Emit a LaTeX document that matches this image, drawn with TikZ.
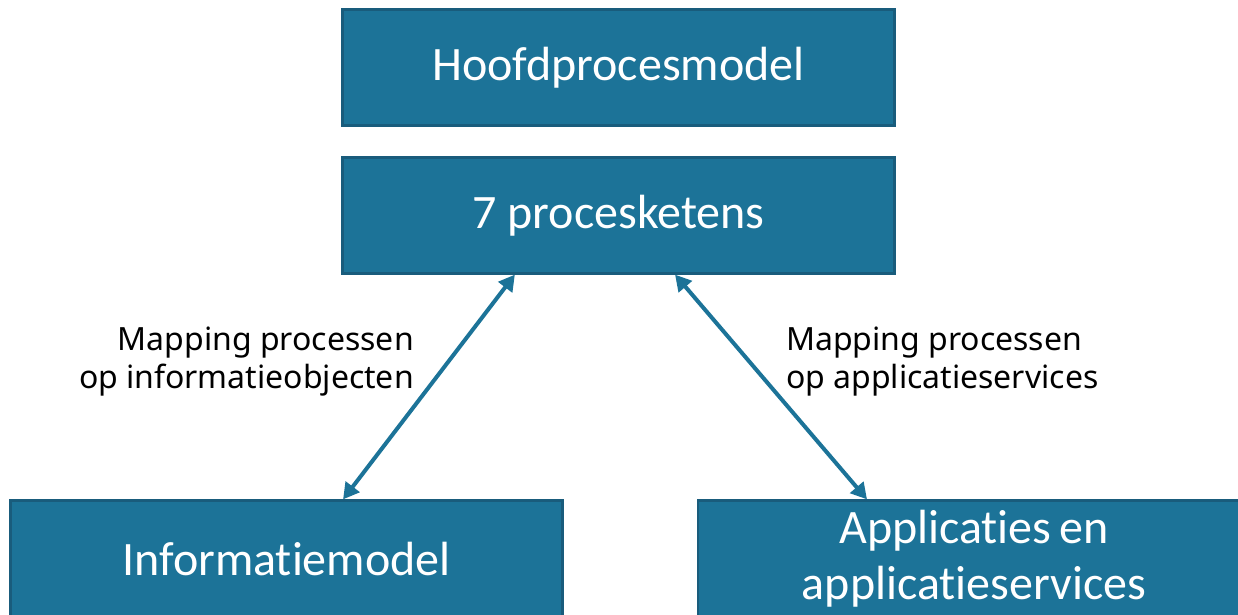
\documentclass[tikz,border=0pt]{standalone}
\usepackage{fontspec}
\setmainfont{Carlito}[RawFeature={-liga;-dlig;-calt;-clig}]
\newfontfamily\mapfont{Noto Sans}
\usetikzlibrary{arrows.meta,calc}
\definecolor{boxblue}{HTML}{1C7398}
\definecolor{boxedge}{HTML}{195C7C}
\definecolor{arrowblue}{HTML}{1C7398}
\tikzset{
  bluebox/.style={draw=boxedge, line width=2.2pt, fill=boxblue, text=white,
    minimum width=552pt, minimum height=116pt, inner sep=0pt,
    font=\fontsize{48}{56}\selectfont, align=center},
  maplabel/.style={font={\mapfont\fontsize{32}{38}\selectfont}, text=black, inner sep=0pt},
  maparrow/.style={arrowblue, line width=4pt,
    {Triangle[length=16pt,width=17pt]}-{Triangle[length=16pt,width=17pt]}}
}
\begin{document}
\begin{tikzpicture}[x=1pt,y=-1pt]
\useasboundingbox (0,0) rectangle (1238,614);
\clip (0,0) rectangle (1238,614);
\node[bluebox] (hpm) at (618.5,67.5) {Hoofdprocesmodel};
\node[bluebox] (pk) at (618.5,215.5) {7 procesketens};
\node[bluebox] (im) at (286.5,558.5) {Informat\kern0pt iemodel};
\node[bluebox] (as) at (974,558.5) {Applicat\kern0pt ies\,en\\applicat\kern0pt ieservices};
\draw[maparrow] ($(im.north west)!0.602!(im.north east)$) -- ($(pk.south west)!0.313!(pk.south east)$);
\draw[maparrow] ($(as.north west)!0.307!(as.north east)$) -- ($(pk.south west)!0.602!(pk.south east)$);
\node[maplabel, anchor=east, align=right] (l1) at (414,362) {\mapfont Mapping processen\\\mapfont op informatieobjecten};
\node[maplabel, anchor=west, align=left] (l2) at (786,362) {\mapfont Mapping processen\\\mapfont op applicatieservices};
\end{tikzpicture}
\end{document}
